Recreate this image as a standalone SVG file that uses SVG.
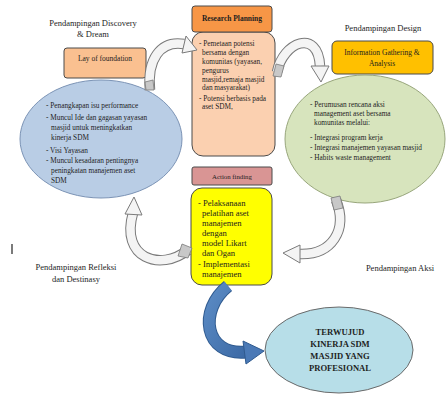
<svg xmlns="http://www.w3.org/2000/svg" width="448" height="394" viewBox="0 0 448 394">
<defs>
<style>
text{font-family:"Liberation Serif","DejaVu Serif",serif;fill:#1e1e1e}
.lbl{font-size:8.5px;text-anchor:middle}
.t7{font-size:7.3px}
.ty{font-size:8.6px}
.hd{font-size:7.5px;text-anchor:middle}
.box{stroke:#4a4a4a;stroke-width:1}
.bandO{fill:none;stroke:#7a7a7a;stroke-width:10.5}
.bandI{fill:none;stroke:#f4f4f4;stroke-width:8.5}
.head{fill:#f4f4f4;stroke:#7a7a7a;stroke-width:1}
</style>
<linearGradient id="bg" x1="0" y1="0" x2="1" y2="1">
<stop offset="0" stop-color="#5b8bc4"/><stop offset="1" stop-color="#3c6aa6"/>
</linearGradient>
</defs>
<rect width="448" height="394" fill="#ffffff"/>

<g id="label-discovery">
<text class="lbl" x="93" y="26">Pendampingan Discovery</text>
<text class="lbl" x="93" y="37">&amp; Dream</text>
</g>
<g id="label-design">
<text class="lbl" x="383" y="31">Pendampingan Design</text>
</g>
<g id="label-refleksi">
<text class="lbl" x="76" y="270">Pendampingan Refleksi</text>
<text class="lbl" x="76" y="282">dan Destinasy</text>
</g>
<g id="label-aksi">
<text class="lbl" x="400" y="271">Pendampingan Aksi</text>
</g>
<line x1="12" y1="244" x2="12" y2="254" stroke="#222" stroke-width="1.2"/>

<g id="lay-of-foundation">
<rect class="box" x="64" y="48" width="82" height="30" rx="3" fill="#FAC090"/>
<text class="hd" x="105" y="61">Lay of foundation</text>
</g>

<g id="discovery-ellipse">
<ellipse cx="101" cy="139" rx="81" ry="59" fill="#B9CDE5" stroke="#7b93b5" stroke-width="1"/>
<text class="t7" x="46" y="108">- Penangkapan isu performance</text>
<text class="t7" x="46" y="120">- Muncul Ide dan gagasan yayasan</text>
<text class="t7" x="51" y="130">masjid untuk meningkatkan</text>
<text class="t7" x="51" y="140">kinerja SDM</text>
<text class="t7" x="46" y="153">- Visi Yayasan</text>
<text class="t7" x="46" y="163">- Muncul kesadaran pentingnya</text>
<text class="t7" x="51" y="173">peningkatan manajemen aset</text>
<text class="t7" x="51" y="183">SDM</text>
</g>

<g id="research-planning">
<rect class="box" x="192" y="32" width="83" height="124" rx="11" fill="#FBD0B0"/>
<rect class="box" x="192" y="6" width="80" height="26" rx="3" fill="#F79646"/>
<text class="hd" x="232" y="21" font-weight="bold">Research Planning</text>
<text class="t7" x="199" y="46">- Pemetaan potensi</text>
<text class="t7" x="202" y="55">bersama dengan</text>
<text class="t7" x="202" y="64">komunitas (yayasan,</text>
<text class="t7" x="202" y="73">pengurus</text>
<text class="t7" x="202" y="82">masjid,remaja masjid</text>
<text class="t7" x="202" y="90">dan masyarakat)</text>
<text class="t7" x="199" y="101">- Potensi berbasis pada</text>
<text class="t7" x="202" y="109">aset SDM,</text>
</g>

<g id="information-gathering">
<rect class="box" x="332" y="41" width="101" height="33" rx="5" fill="#FFC000"/>
<text class="hd" x="382" y="55">Information Gathering &amp;</text>
<text class="hd" x="382" y="66">Analysis</text>
</g>

<g id="design-ellipse">
<ellipse cx="365" cy="139" rx="80" ry="64" fill="#D7E4BD" stroke="#98a67c" stroke-width="1"/>
<text class="t7" x="310" y="107">- Perumusan rencana aksi</text>
<text class="t7" x="314" y="116">management aset bersama</text>
<text class="t7" x="314" y="125">komunitas melalui:</text>
<text class="t7" x="310" y="140">- Integrasi program kerja</text>
<text class="t7" x="310" y="150">- Integrasi manajemen yayasan masjid</text>
<text class="t7" x="310" y="160">- Habits waste management</text>
</g>

<g id="action-finding">
<rect class="box" x="192" y="167" width="80" height="18" rx="2" fill="#D99594"/>
<text x="232" y="179" font-size="6.8" text-anchor="middle">Action finding</text>
<rect class="box" x="191" y="188" width="81" height="97" rx="11" fill="#FFFF00"/>
<text class="ty" x="198" y="206">- Pelaksanaan</text>
<text class="ty" x="202" y="216">pelatihan aset</text>
<text class="ty" x="202" y="226">manajemen</text>
<text class="ty" x="202" y="236">dengan</text>
<text class="ty" x="202" y="246">model Likart</text>
<text class="ty" x="202" y="256">dan Ogan</text>
<text class="ty" x="198" y="267">- Implementasi</text>
<text class="ty" x="202" y="277">manajemen</text>
</g>

<g id="result">
<ellipse cx="339" cy="350" rx="74" ry="43" fill="#B7DEE8" stroke="#6a6a6a" stroke-width="1"/>
<text x="340" y="335" font-size="8.6" font-weight="bold" text-anchor="middle">TERWUJUD</text>
<text x="340" y="347" font-size="8.6" font-weight="bold" text-anchor="middle">KINERJA SDM</text>
<text x="340" y="359" font-size="8.6" font-weight="bold" text-anchor="middle">MASJID YANG</text>
<text x="340" y="371" font-size="8.6" font-weight="bold" text-anchor="middle">PROFESIONAL</text>
</g>

<g id="connectors">
<!-- discovery -> research planning -->
<path class="bandO" d="M150,90 C147,60 160,40 184,44"/>
<path class="bandI" d="M150,90 C147,60 160,40 184,44"/>
<path d="M146,90 L154,90 L153,80 L145,82 Z" fill="#c8c8c8" stroke="#7a7a7a" stroke-width="0.8"/>
<polygon class="head" points="186,36 182,53 197,50"/>
<!-- research planning -> design -->
<path class="bandO" d="M277,72 C283,42 318,28 320,66"/>
<path class="bandI" d="M277,72 C283,42 318,28 320,66"/>
<path d="M273,76 L281,77 L284,66 L276,64 Z" fill="#c8c8c8" stroke="#7a7a7a" stroke-width="0.8"/>
<polygon class="head" points="311,66 329,66 321,82"/>
<!-- design -> action -->
<path class="bandO" d="M336,200 C348,230 332,255 300,254"/>
<path class="bandI" d="M336,200 C348,230 332,255 300,254"/>
<path d="M331,198 L340,196 L343,208 L334,210 Z" fill="#c8c8c8" stroke="#7a7a7a" stroke-width="0.8"/>
<polygon class="head" points="300,245 300,263 283,253"/>
<!-- action -> discovery -->
<path class="bandO" d="M188,250 C160,272 120,258 133,213"/>
<path class="bandI" d="M188,250 C160,272 120,258 133,213"/>
<path d="M182,244 L192,248 L188,258 L178,256 Z" fill="#c8c8c8" stroke="#7a7a7a" stroke-width="0.8"/>
<polygon class="head" points="125,214 142,215 134,197"/>
<!-- action -> result -->
<path d="M228,286 C198,310 204,356 246,352" fill="none" stroke="#2f5a8f" stroke-width="13"/>
<path d="M228,286 C198,310 204,356 246,352" fill="none" stroke="url(#bg)" stroke-width="11"/>
<polygon points="243,341 246,364 264,351" fill="#4a79b6" stroke="#2f5a8f" stroke-width="1"/>
</g>
</svg>
